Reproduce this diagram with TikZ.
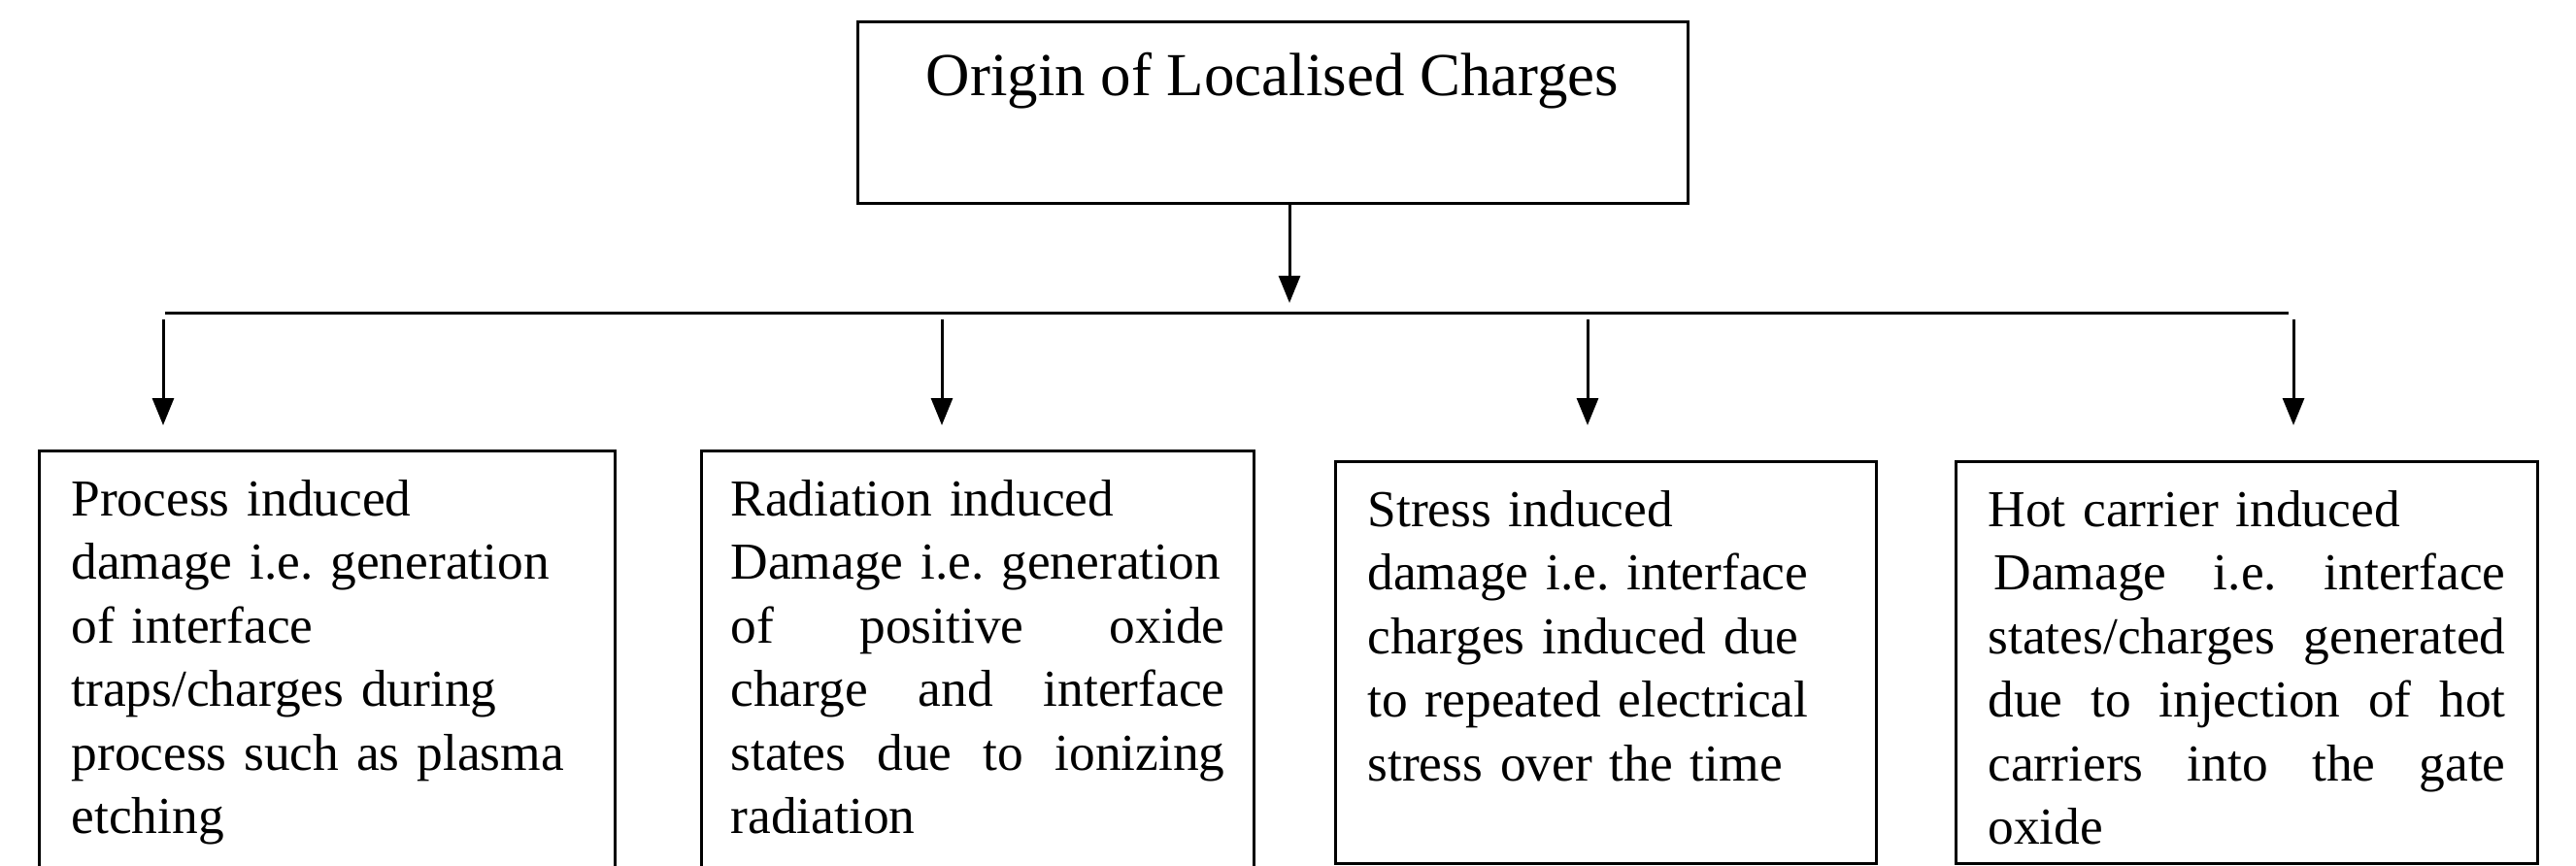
\documentclass[tikz,border=0pt]{standalone}
\usepackage{fontspec}
\setmainfont{Liberation Serif}
\usetikzlibrary{arrows.meta}

\begin{document}
\frenchspacing
\begin{tikzpicture}[
    cause/.style={draw, line width=0.03cm, anchor=north west, inner xsep=0.33cm, inner ysep=0pt,
        text height=0.67cm, font=\fontsize{15.2pt}{18.6pt}\selectfont},
    link/.style={line width=0.03cm, -{Triangle[length=0.28cm, width=0.22cm]}}
]
    % Fix the page to the size of the figure
    \useasboundingbox (0,0) rectangle (26.53,-8.91);

    % Draw the top box
    \node[draw, line width=0.03cm, anchor=base, minimum width=8.55cm, inner sep=0pt,
        text height=0.76cm, text depth=1.11cm, font=\fontsize{17.9pt}{20pt}\selectfont]
        (origin) at (13.105,-0.98) {Origin of Localised Charges};

    % Draw the horizontal bar
    \def\barY{-3.22}
    \coordinate (barL) at (1.70,\barY);
    \coordinate (barR) at (23.57,\barY);
    \draw[line width=0.03cm] (barL) -- (barR);

    % Draw the four boxes
    \node[cause, text width=5.27cm, text depth=3.65cm] (process) at (0.39,-4.63) {%
        Process induced\\
        damage i.e. generation\\
        of interface\\
        traps/charges during\\
        process such as plasma\\
        etching};
    \node[cause, inner xsep=0.30cm, text width=5.09cm, text depth=3.65cm] (radiation) at (7.21,-4.63) {%
        Radiation induced\\
        \mbox{Damage i.e. generation}\\
        of\hfill positive\hfill oxide\\
        charge\hfill and\hfill interface\\
        states\hfill due\hfill to\hfill ionizing\\
        radiation};
    \node[cause, text width=4.91cm, text depth=3.47cm] (stress) at (13.74,-4.74) {%
        Stress induced\\
        damage i.e. interface\\
        charges induced due\\
        to repeated electrical\\
        stress over the time};
    \node[cause, text width=5.33cm, text depth=3.47cm] (hot) at (20.13,-4.74) {%
        Hot carrier induced\\
        \hspace*{0.06cm}Damage\hfill i.e.\hfill interface\\
        states/charges\hfill generated\\
        due\hfill to\hfill injection\hfill of\hfill hot\\
        carriers\hfill into\hfill the\hfill gate\\
        oxide};

    % Draw the arrows
    \draw[link, shorten >=0.1cm] ([xshift=0.175cm]origin.south) -- ([xshift=0.175cm]origin.south |- barL);
    \foreach \x/\name/\gap in {1.68/process/0.25, 9.70/radiation/0.25, 16.35/stress/0.36, 23.62/hot/0.36} {
        \coordinate (from-\name) at (\x,-3.29);
        \draw[link, shorten >=\gap cm] (from-\name) -- (from-\name |- \name.north);
    }

\end{tikzpicture}
\end{document}
